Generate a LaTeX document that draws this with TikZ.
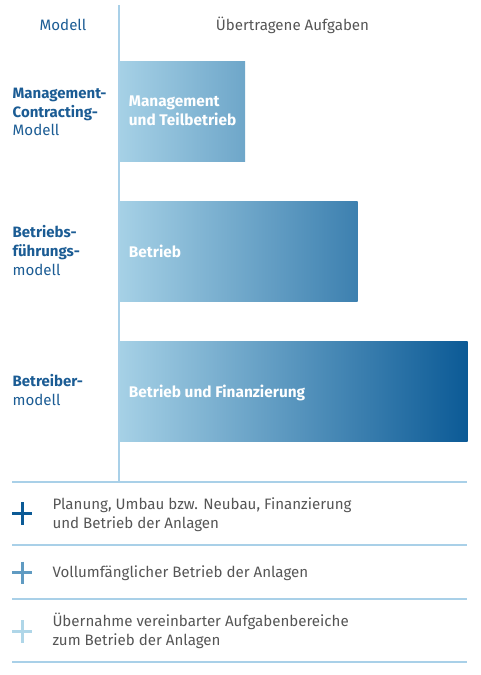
\documentclass[tikz,border=0pt]{standalone}
\usepackage{fontspec}
\setmainfont{Fira Sans}
\definecolor{dk}{HTML}{0B5A96}
\definecolor{lt}{HTML}{A6D1E6}
\definecolor{txtgray}{HTML}{555555}
\definecolor{navy}{HTML}{1B5C94}
\definecolor{rulec}{HTML}{A9D0E8}
\colorlet{mid1}{dk!36!lt}
\colorlet{mid2}{dk!68!lt}
\colorlet{plusmid}{dk!45!lt}
\colorlet{pluslt}{lt!90!white}
\tikzset{
  txt/.style={inner sep=0pt, anchor=base west, font=\fontsize{15.1}{18}\selectfont},
  hdr/.style={txt, anchor=base, },
  lbl/.style={txt, text=navy},
  lblb/.style={txt, text=navy, font=\fontsize{15}{18}\selectfont\bfseries},
  barlbl/.style={txt, text=white, font=\fontsize{15.4}{18}\selectfont\bfseries},
  leg/.style={txt, text=txtgray},
  bar/.style={inner sep=0pt, anchor=north west, left color=lt},
  rul/.style={draw=rulec, line width=2pt},
  plus/.style={line width=3pt}
}
\begin{document}
\begin{tikzpicture}[x=1pt,y=-1pt]
\useasboundingbox (0,0) rectangle (480,675);
% bars
\node[bar, minimum width=126.5pt, minimum height=100pt, right color=mid1] (b1) at (118.5,61) {};
\node[bar, minimum width=239pt, minimum height=100pt, right color=mid2] (b2) at (118.5,201) {};
\node[bar, minimum width=349pt, minimum height=100pt, right color=dk] (b3) at (118.5,341) {};
% axis
\coordinate (vt) at (119,5);
\coordinate (vb) at (119,482);
\draw[rul] (vt) -- (vb);
% headers
\node[hdr, text=navy] (h1) at (63,30.7) {Modell};
\node[hdr, text=txtgray] (h2) at (292.5,30.7) {Übertragene Aufgaben};
% left labels
\node[lblb] (l1a) at (12.5,98.3) {Management-};
\node[lblb] (l1b) at (12.5,117) {Contracting-};
\node[lbl] (l1c) at (12.5,135.7) {Modell};
\node[lblb] (l2a) at (12.5,237.3) {Betriebs-};
\node[lblb] (l2b) at (12.5,256.3) {führungs-};
\node[lbl] (l2c) at (12.5,275.7) {modell};
\node[lblb] (l3a) at (12.5,386.7) {Betreiber-};
\node[lbl] (l3b) at (12.5,405.7) {modell};
% bar labels
\node[barlbl] (t1a) at (128.7,106) {Management};
\node[barlbl] (t1b) at (128.7,125.7) {und Teilbetrieb};
\node[barlbl] (t2) at (128.7,257.3) {Betrieb};
\node[barlbl] (t3) at (128.7,397.7) {Betrieb und Finanzierung};
% rules
\coordinate (r1l) at (12,482.3); \coordinate (r1r) at (467,482.3);
\coordinate (r2l) at (12,545.3); \coordinate (r2r) at (467,545.3);
\coordinate (r3l) at (12,599); \coordinate (r3r) at (467,599);
\coordinate (r4l) at (12,662.3); \coordinate (r4r) at (467,662.3);
\draw[rul] (r1l) -- (r1r);
\draw[rul] (r2l) -- (r2r);
\draw[rul] (r3l) -- (r3r);
\draw[rul] (r4l) -- (r4r);
% plus signs
\draw[plus, draw=dk] (12,513.5) -- (32,513.5) (22,502) -- (22,525);
\draw[plus, draw=plusmid] (12,572.7) -- (32,572.7) (22,561.5) -- (22,584);
\draw[plus, draw=pluslt] (12,631.5) -- (32,631.5) (22,620) -- (22,643);
% legend
\node[leg] (g1a) at (52.3,509.3) {Planung, Umbau bzw. Neubau, Finanzierung};
\node[leg] (g1b) at (52.3,528.3) {und Betrieb der Anlagen};
\node[leg] (g2) at (52.3,577.7) {Vollumfänglicher Betrieb der Anlagen};
\node[leg] (g3a) at (52.3,626.7) {Übernahme vereinbarter Aufgabenbereiche};
\node[leg] (g3b) at (52.3,645.7) {zum Betrieb der Anlagen};
\end{tikzpicture}
\end{document}
